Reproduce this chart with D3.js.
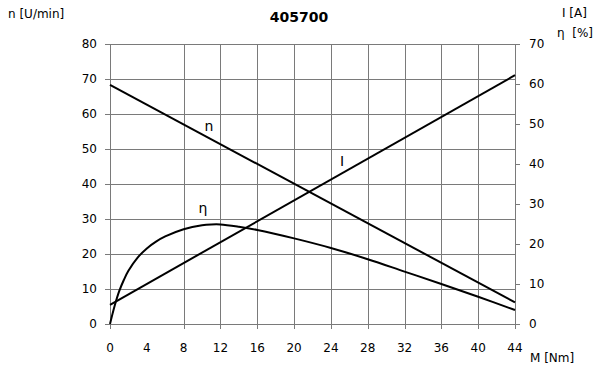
<!DOCTYPE html>
<html>
<head>
<meta charset="utf-8">
<script src="https://cdn.jsdelivr.net/npm/d3@7"></script>
<style>
  body { margin: 0; background: #fff; }
  svg { display: block; font-family: "DejaVu Sans", sans-serif; }
</style>
</head>
<body>
<div id="root"></div>
<script>
// torque axis (Nm)
const xTicks = [0, 4, 8, 12, 16, 20, 24, 28, 32, 36, 40, 44];
const xGrid = [8, 12, 16, 20, 24, 28, 32, 36, 40, 44];
const leftTicks = [0, 10, 20, 30, 40, 50, 60, 70, 80];
const rightTicks = [0, 10, 20, 30, 40, 50, 60, 70];

// speed n [U/min] (left axis)
const speedM = [0, 44];
const speedN = [68.3, 6.2];

// current I [A] (right axis)
const currentM = [0, 44];
const currentI = [4.8, 62.2];

// efficiency eta [%] (right axis)
const etaM = [0, 0.5, 1, 1.5, 2, 3, 4, 5, 6, 8, 10, 11, 12, 14, 16, 20, 24, 28, 32, 36, 40, 44];
const etaV = [0, 4.5, 8.2, 11, 13.3, 16.6, 18.9, 20.6, 21.9, 23.7, 24.7, 24.9, 24.9, 24.3, 23.5, 21.4, 19.0, 16.2, 13.1, 10.0, 6.8, 3.5];

const W = 600, H = 385;
const M = { left: 110, right: 85, top: 44, bottom: 61 };

const svg = d3.select("#root").append("svg")
  .attr("width", W)
  .attr("height", H)
  .style("background", "white");

const x = d3.scaleLinear().domain([0, 44]).range([M.left, W - M.right]);
const yL = d3.scaleLinear().domain([0, 80]).range([H - M.bottom, M.top]);
const yR = d3.scaleLinear().domain([0, 70]).range([H - M.bottom, M.top]);

const gridColor = "#7a7a7a";

// horizontal grid (left scale) with small outward ticks
svg.append("g")
  .selectAll("line")
  .data(leftTicks)
  .join("line")
  .attr("x1", M.left - 5)
  .attr("x2", W - M.right)
  .attr("y1", d => Math.round(yL(d)) + 0.5)
  .attr("y2", d => Math.round(yL(d)) + 0.5)
  .attr("stroke", gridColor)
  .attr("stroke-width", 1);

// vertical grid
svg.append("g")
  .selectAll("line")
  .data(xGrid)
  .join("line")
  .attr("x1", d => Math.round(x(d)) + 0.5)
  .attr("x2", d => Math.round(x(d)) + 0.5)
  .attr("y1", M.top)
  .attr("y2", H - M.bottom + 5)
  .attr("stroke", gridColor)
  .attr("stroke-width", 1);

// left axis line
svg.append("line")
  .attr("x1", M.left + 0.5).attr("x2", M.left + 0.5)
  .attr("y1", M.top).attr("y2", H - M.bottom + 5)
  .attr("stroke", gridColor);

// right axis ticks
svg.append("g")
  .selectAll("line")
  .data(rightTicks)
  .join("line")
  .attr("x1", W - M.right)
  .attr("x2", W - M.right + 5)
  .attr("y1", d => Math.round(yR(d)) + 0.5)
  .attr("y2", d => Math.round(yR(d)) + 0.5)
  .attr("stroke", gridColor);

// tick labels
const tickFont = 12;
svg.append("g")
  .selectAll("text")
  .data(leftTicks)
  .join("text")
  .attr("x", M.left - 13)
  .attr("y", d => yL(d))
  .attr("dy", "0.35em")
  .attr("text-anchor", "end")
  .attr("font-size", tickFont)
  .text(d => d);

svg.append("g")
  .selectAll("text")
  .data(rightTicks)
  .join("text")
  .attr("x", W - M.right + 14)
  .attr("y", d => yR(d))
  .attr("dy", "0.35em")
  .attr("font-size", tickFont)
  .text(d => d);

svg.append("g")
  .selectAll("text")
  .data(xTicks)
  .join("text")
  .attr("x", d => x(d))
  .attr("y", H - M.bottom + 28)
  .attr("text-anchor", "middle")
  .attr("font-size", tickFont)
  .text(d => d);

// curves
const line = (xs, ys, yScale, curve) => d3.line()
  .x((_, i) => x(xs[i]))
  .y((_, i) => yScale(ys[i]))
  .curve(curve)(xs);

svg.append("path")
  .attr("d", line(speedM, speedN, yL, d3.curveLinear))
  .attr("fill", "none").attr("stroke", "#000").attr("stroke-width", 2);

svg.append("path")
  .attr("d", line(currentM, currentI, yR, d3.curveLinear))
  .attr("fill", "none").attr("stroke", "#000").attr("stroke-width", 2);

svg.append("path")
  .attr("d", line(etaM, etaV, yR, d3.curveCatmullRom.alpha(0.5)))
  .attr("fill", "none").attr("stroke", "#000").attr("stroke-width", 2);

// curve labels
const labelFont = 14;
svg.append("text").attr("x", 209).attr("y", 131).attr("text-anchor", "middle")
  .attr("font-size", labelFont).text("n");
svg.append("text").attr("x", 342).attr("y", 166).attr("text-anchor", "middle")
  .attr("font-size", labelFont).text("I");
svg.append("text").attr("x", 203).attr("y", 213).attr("text-anchor", "middle")
  .attr("font-size", labelFont).text("η");

// title and axis names
svg.append("text")
  .attr("x", 299).attr("y", 22)
  .attr("text-anchor", "middle")
  .attr("font-size", 14)
  .attr("font-weight", "bold")
  .text("405700");

svg.append("text").attr("x", 8).attr("y", 18).attr("font-size", 12).text("n [U/min]");
svg.append("text").attr("x", 562).attr("y", 17).attr("font-size", 12).text("I [A]");
svg.append("text").attr("x", 557).attr("y", 37).attr("font-size", 12).attr("xml:space", "preserve").text("η  [%]");
svg.append("text").attr("x", 530).attr("y", 362).attr("font-size", 12).text("M [Nm]");
</script>
</body>
</html>
